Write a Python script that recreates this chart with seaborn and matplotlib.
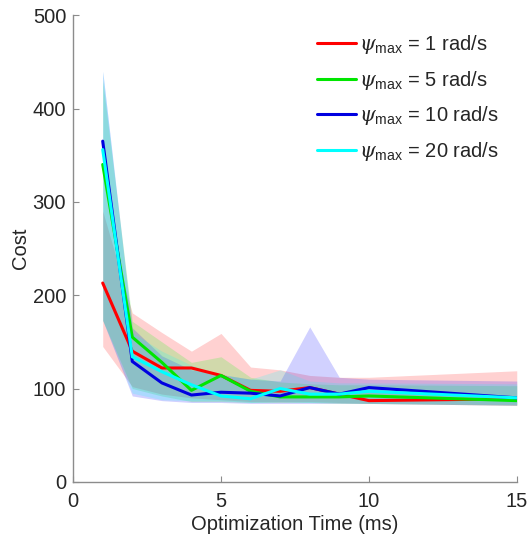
import numpy as np
import pandas as pd
import matplotlib
matplotlib.use("Agg")
import matplotlib.pyplot as plt
import seaborn as sns

x = [1, 2, 3, 4, 5, 6, 7, 8, 9, 10, 15]
labels = [r"$\psi_{\rm max}$ = 1 rad/s", r"$\psi_{\rm max}$ = 5 rad/s",
          r"$\psi_{\rm max}$ = 10 rad/s", r"$\psi_{\rm max}$ = 20 rad/s"]

mean_1 = [213, 140, 122, 122, 114, 98, 97, 101, 94, 87, 89]
mean_5 = [340, 155, 128, 98, 114, 97, 91, 91, 91, 92, 87]
mean_10 = [365, 129, 106, 93, 96, 95, 92, 101, 94, 101, 90]
mean_20 = [356, 134, 118, 104, 92, 89, 100, 94, 94, 97, 90]

upper_1 = [290, 181, 160, 140, 159, 123, 120, 114, 112, 112, 119]
lower_1 = [145, 102, 94, 90, 88, 86, 86, 86, 85, 84, 82]
upper_5 = [430, 172, 150, 128, 134, 112, 107, 105, 104, 104, 103]
lower_5 = [173, 100, 92, 86, 86, 85, 85, 85, 84, 84, 82]
upper_10 = [440, 165, 135, 120, 115, 110, 108, 166, 112, 110, 108]
lower_10 = [173, 92, 87, 85, 85, 84, 84, 84, 84, 84, 82]
upper_20 = [440, 160, 140, 125, 115, 110, 120, 108, 106, 106, 105]
lower_20 = [173, 95, 88, 87, 87, 85, 86, 85, 85, 84, 83]

colors = ["#ff0000", "#00ff00", "#0000ff", "#00ffff"]
line_colors = ["#ff0000", "#00e600", "#0000e0", "#00ffff"]

means = [mean_1, mean_5, mean_10, mean_20]
uppers = [upper_1, upper_5, upper_10, upper_20]
lowers = [lower_1, lower_5, lower_10, lower_20]

df = pd.concat([pd.DataFrame({"t": x, "cost": m, "series": lab})
                for m, lab in zip(means, labels)], ignore_index=True)

sns.set_style("white")
plt.rcParams["font.family"] = ["Liberation Sans", "DejaVu Sans"]
plt.rcParams["mathtext.fontset"] = "custom"
plt.rcParams["mathtext.rm"] = "Liberation Sans"
plt.rcParams["mathtext.it"] = "DejaVu Serif:italic"

fig = plt.figure(figsize=(5.30, 5.42), dpi=100)
ax = fig.add_axes([0.138, 0.111, 0.837, 0.861])

for up, lo, c in zip(uppers, lowers, colors):
    ax.fill_between(x, lo, up, color=c, alpha=0.18, linewidth=0)

sns.lineplot(data=df, x="t", y="cost", hue="series", palette=dict(zip(labels, line_colors)),
             linewidth=2.2, ax=ax, legend=True, sort=False)

ax.set_xlim(0, 15)
ax.set_ylim(0, 500)
ax.set_xticks([0, 5, 10, 15])
ax.set_yticks([0, 100, 200, 300, 400, 500])
ax.set_xlabel("Optimization Time (ms)", fontsize=14.5, color="#262626", labelpad=3)
ax.set_ylabel("Cost", fontsize=14.5, color="#262626", labelpad=2)
ax.tick_params(axis="both", direction="in", length=4, width=0.8, color="#8c8c8c",
               labelsize=14.5, labelcolor="#262626", bottom=True, left=True)
ax.tick_params(axis="x", pad=7)
ax.tick_params(axis="y", pad=5)
for s in ["top", "right"]:
    ax.spines[s].set_visible(False)
for s in ["left", "bottom"]:
    ax.spines[s].set_color("#8c8c8c")
    ax.spines[s].set_linewidth(1.0)

leg = ax.legend(loc="upper right", frameon=False, fontsize=14.5, handlelength=1.9,
                handletextpad=0.15, labelspacing=0.62, bbox_to_anchor=(1.0, 1.0))
for h in leg.get_lines():
    h.set_linewidth(2.2)

fig.savefig("out.png", dpi=100)
